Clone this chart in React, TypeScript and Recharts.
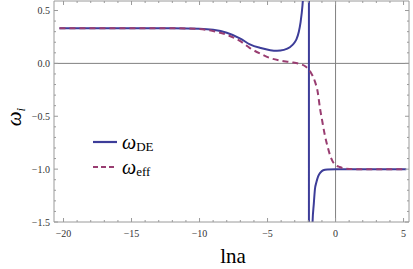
import React from "react";
import { LineChart, Line, XAxis, YAxis, ReferenceLine } from "recharts";

// ---- data ----
const lnaDE = [-20.3, -15, -12, -10, -9, -8, -7, -6.3, -5.5, -4.8, -4.3, -3.8, -3.36, -3.0, -2.87, -2.7, -2.57, -2.43, -2.35, -2.2, -2.05, -1.96, -1.955, -1.85, -1.75, -1.69, -1.6, -1.52, -1.4, -1.28, -1.1, -0.91, -0.6, 0, 2, 5.2];
const omegaDE = [0.333, 0.333, 0.332, 0.328, 0.318, 0.29, 0.235, 0.18, 0.145, 0.125, 0.12, 0.128, 0.152, 0.2, 0.23, 0.3, 0.39, 0.55, 0.7, 1.2, 2.5, 6, -6, -3, -2, -1.5, -1.33, -1.195, -1.12, -1.068, -1.03, -1.011, -1.003, -1.0, -1.0, -1.0];
const lnaEff = [-20.3, -15, -12, -10, -9, -8, -7, -6.3, -5.5, -4.8, -4.1, -3.3, -2.63, -2.2, -2.0, -1.8, -1.52, -1.3, -1.15, -1.0, -0.8, -0.6, -0.4, -0.2, 0, 0.3, 0.7, 1.5, 5.2];
const omegaEff = [0.333, 0.333, 0.332, 0.325, 0.305, 0.27, 0.21, 0.145, 0.09, 0.05, 0.028, 0.012, -0.005, -0.03, -0.055, -0.09, -0.17, -0.28, -0.42, -0.53, -0.67, -0.78, -0.87, -0.93, -0.96, -0.98, -0.995, -1.0, -1.0];

const xTicks = [-20, -19, -18, -17, -16, -15, -14, -13, -12, -11, -10, -9, -8, -7, -6, -5, -4, -3, -2, -1, 0, 1, 2, 3, 4, 5];
const xMajor = [-20, -15, -10, -5, 0, 5];
const yTicks = [-1.5, -1.4, -1.3, -1.2, -1.1, -1.0, -0.9, -0.8, -0.7, -0.6, -0.5, -0.4, -0.3, -0.2, -0.1, 0.0, 0.1, 0.2, 0.3, 0.4, 0.5];
const yMajor = [-1.5, -1.0, -0.5, 0.0, 0.5];
const yLabels = ["\u22121.5", "\u22121.0", "\u22120.5", "0.0", "0.5"];
const xLabels = ["\u221220", "\u221215", "\u221210", "\u22125", "0", "5"];

const X_DOMAIN: [number, number] = [-20.7, 5.4];
const Y_DOMAIN: [number, number] = [-1.5, 0.59];

const deData = lnaDE.map((x, i) => ({ x, y: omegaDE[i] }));
const effData = lnaEff.map((x, i) => ({ x, y: omegaEff[i] }));

// ---- layout constants ----
const W = 413;
const H = 269;
const M = { top: 1, right: 4, left: 0, bottom: 0 };
const Y_AXIS_W = 54;
const X_AXIS_H = 47;
const PLOT_TOP = M.top;
const PLOT_RIGHT = W - M.right;

const FRAME = "#9a9a9a";
const BLUE = "#3d3d99";
const PURPLE = "#993d71";
const SERIF = "'Liberation Serif', 'Times New Roman', serif";

const XTick = (props: any) => {
  const { x, y, payload } = props;
  const v = payload.value;
  const idx = xMajor.indexOf(v);
  const len = idx >= 0 ? 4 : 2;
  return (
    <g>
      <line x1={x} x2={x} y1={y} y2={y - len} stroke={FRAME} strokeWidth={1} />
      <line x1={x} x2={x} y1={PLOT_TOP} y2={PLOT_TOP + len} stroke={FRAME} strokeWidth={1} />
      {idx >= 0 && (
        <text x={x} y={y + 14.5} textAnchor="middle" fontFamily={SERIF} fontSize={10} fill="#333">
          {xLabels[idx]}
        </text>
      )}
    </g>
  );
};

const YTick = (props: any) => {
  const { x, y, payload } = props;
  const v = payload.value;
  const idx = yMajor.findIndex((m) => Math.abs(m - v) < 1e-9);
  const len = idx >= 0 ? 4 : 2;
  return (
    <g>
      <line x1={x} x2={x + len} y1={y} y2={y} stroke={FRAME} strokeWidth={1} />
      <line x1={PLOT_RIGHT} x2={PLOT_RIGHT - len} y1={y} y2={y} stroke={FRAME} strokeWidth={1} />
      {idx >= 0 && (
        <text x={x - 4} y={y + 3.5} textAnchor="end" fontFamily={SERIF} fontSize={10} fill="#333">
          {yLabels[idx]}
        </text>
      )}
    </g>
  );
};

const legendItems = [
  { sub: "DE", color: BLUE, dash: undefined as string | undefined },
  { sub: "eff", color: PURPLE, dash: "5 3" },
];

export default function App() {
  return (
    <div style={{ position: "absolute", left: 0, top: 0, width: W, height: H, background: "#fff" }}>
      <LineChart width={W} height={H} data={deData} margin={M}>
        <XAxis
          dataKey="x"
          type="number"
          domain={X_DOMAIN}
          ticks={xTicks}
          interval={0}
          allowDataOverflow
          height={X_AXIS_H}
          tickSize={0}
          tickMargin={0}
          tickLine={false}
          axisLine={{ stroke: FRAME, strokeWidth: 1 }}
          tick={<XTick />}
        />
        <YAxis
          dataKey="y"
          type="number"
          domain={Y_DOMAIN}
          ticks={yTicks}
          interval={0}
          allowDataOverflow
          width={Y_AXIS_W}
          tickSize={0}
          tickMargin={0}
          tickLine={false}
          axisLine={{ stroke: FRAME, strokeWidth: 1 }}
          tick={<YTick />}
        />
        <ReferenceLine y={Y_DOMAIN[1]} stroke={FRAME} strokeWidth={1} />
        <ReferenceLine x={X_DOMAIN[1]} stroke={FRAME} strokeWidth={1} />
        <ReferenceLine y={0} stroke="#808080" strokeWidth={1} />
        <ReferenceLine x={0} stroke="#808080" strokeWidth={1} />
        <Line
          data={deData}
          dataKey="y"
          type="monotone"
          stroke={BLUE}
          strokeWidth={2}
          dot={false}
          isAnimationActive={false}
        />
        <Line
          data={effData}
          dataKey="y"
          type="monotone"
          stroke={PURPLE}
          strokeWidth={2}
          strokeDasharray="6 4"
          dot={false}
          isAnimationActive={false}
        />
      </LineChart>
      <div style={{ position: "absolute", left: 92, top: 129, fontFamily: SERIF, color: "#000" }}>
        {legendItems.map((it, i) => (
          <div key={i} style={{ display: "flex", alignItems: "center", height: 25 }}>
            <svg width={26} height={6} style={{ marginRight: 4 }}>
              <line x1={1} x2={25} y1={3} y2={3} stroke={it.color} strokeWidth={2.2} strokeDasharray={it.dash} />
            </svg>
            <span style={{ fontSize: 20, fontStyle: "italic", lineHeight: 1 }}>ω</span>
            <span style={{ fontSize: 13, position: "relative", top: 5, lineHeight: 1 }}>{it.sub}</span>
          </div>
        ))}
      </div>
      <svg width={W} height={H} style={{ position: "absolute", left: 0, top: 0, pointerEvents: "none" }}>
        <text x={233} y={263} textAnchor="middle" fontFamily={SERIF} fontSize={21} fill="#000">
          lna
        </text>
        <text transform="translate(21,117) rotate(-90)" textAnchor="middle" fontFamily={SERIF} fontSize={21} fill="#000">
          <tspan fontStyle="italic">ω</tspan>
          <tspan fontStyle="italic" fontSize={13} dy={4}>i</tspan>
        </text>
      </svg>
    </div>
  );
}
